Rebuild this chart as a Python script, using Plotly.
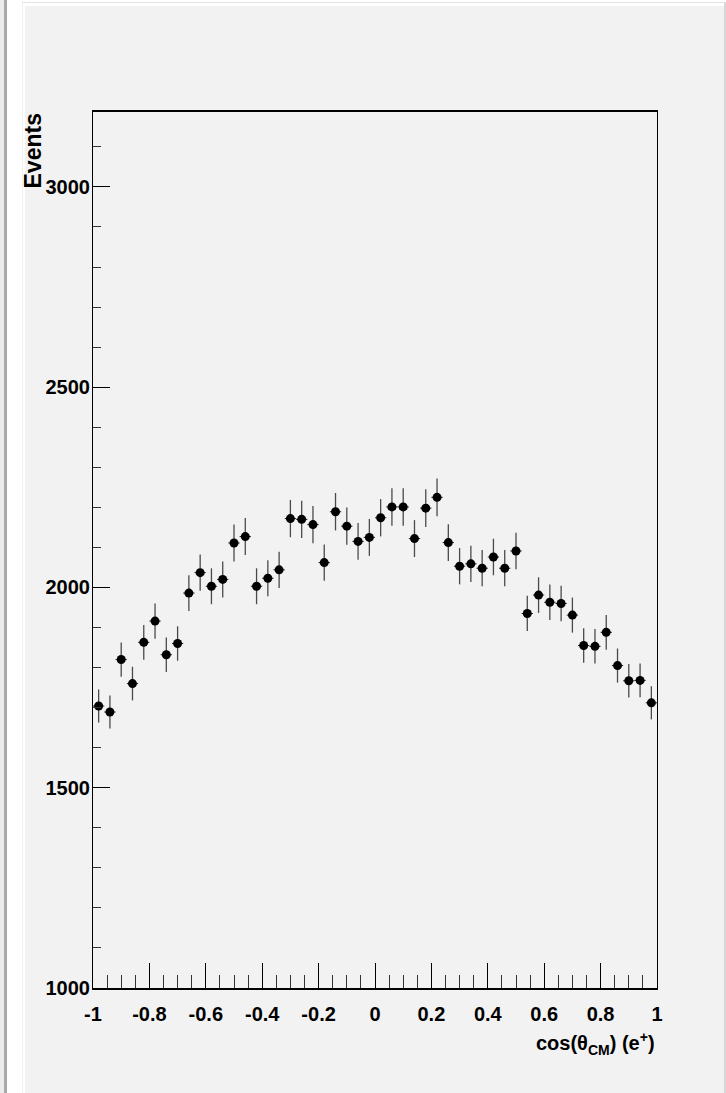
import numpy as np
import plotly.graph_objects as go

# Histogram binning: 50 bins on [-1, 1]
x_min, x_max, n_bins = -1.0, 1.0, 50
bin_edges = np.linspace(x_min, x_max, n_bins + 1)
bin_centers = 0.5 * (bin_edges[:-1] + bin_edges[1:])
half_width = 0.5 * (bin_edges[1] - bin_edges[0])

# Bin contents (events per bin)
counts = [
    1704, 1689, 1820, 1760, 1863, 1916, 1832, 1860, 1986, 2037,
    2003, 2020, 2111, 2127, 2003, 2023, 2044, 2172, 2170, 2157,
    2062, 2189, 2153, 2115, 2125, 2174, 2201, 2201, 2122, 2198,
    2225, 2112, 2053, 2059, 2048, 2076, 2048, 2091, 1935, 1981,
    1963, 1960, 1931, 1855, 1853, 1888, 1805, 1767, 1768, 1712,
]

# Statistical uncertainty per bin
errors = [
    41.3, 41.1, 42.7, 42.0, 43.2, 43.8, 42.8, 43.1, 44.6, 45.1,
    44.8, 44.9, 45.9, 46.1, 44.8, 45.0, 45.2, 46.6, 46.6, 46.4,
    45.4, 46.8, 46.4, 46.0, 46.1, 46.6, 46.9, 46.9, 46.1, 46.9,
    47.2, 46.0, 45.3, 45.4, 45.3, 45.6, 45.3, 45.7, 44.0, 44.5,
    44.3, 44.3, 43.9, 43.1, 43.0, 43.5, 42.5, 42.0, 42.0, 41.4,
]

x_ticks = [-1, -0.8, -0.6, -0.4, -0.2, 0, 0.2, 0.4, 0.6, 0.8, 1]
x_tick_text = ["-1", "-0.8", "-0.6", "-0.4", "-0.2", "0", "0.2", "0.4", "0.6", "0.8", "1"]
y_ticks = [1000, 1500, 2000, 2500, 3000]
y_tick_text = ["1000", "1500", "2000", "2500", "3000"]
y_min, y_max = 1000, 3187

# Canvas geometry (pixels)
W, H = 726, 1093
ML, MR, MT, MB = 93, 69, 112, 105
PW, PH = W - ML - MR, H - MT - MB

def px_x(px):
    return (px - ML) / PW

def px_y(py):
    return (H - MB - py) / PH

PANEL = "#f2f2f2"
FONT = "Liberation Sans, Arial, Helvetica, sans-serif"

fig = go.Figure()
fig.add_trace(go.Scatter(
    x=bin_centers,
    y=counts,
    mode="markers",
    marker=dict(symbol="circle", size=9, color="black"),
    error_y=dict(type="data", array=errors, visible=True, color="#4a4a4a",
                 thickness=1.3, width=0),
    error_x=dict(type="constant", value=half_width, visible=True, color="#222222",
                 thickness=1, width=0),
    showlegend=False,
    hoverinfo="x+y",
))

shapes = [
    # left margin strip and divider
    dict(type="rect", xref="paper", yref="paper", x0=px_x(0), x1=px_x(22),
         y0=px_y(H), y1=px_y(0), fillcolor="white", line_width=0, layer="below"),
    dict(type="rect", xref="paper", yref="paper", x0=px_x(0), x1=px_x(4),
         y0=px_y(H), y1=px_y(0), fillcolor="#ececec", line_width=0, layer="below"),
    dict(type="rect", xref="paper", yref="paper", x0=px_x(4), x1=px_x(7),
         y0=px_y(H), y1=px_y(0), fillcolor="#a9a9a9", line_width=0, layer="below"),
    # top strip
    dict(type="rect", xref="paper", yref="paper", x0=px_x(22), x1=px_x(W),
         y0=px_y(6), y1=px_y(0), fillcolor="white", line_width=0, layer="below"),
    dict(type="line", xref="paper", yref="paper", x0=px_x(22), x1=px_x(W),
         y0=px_y(2.5), y1=px_y(2.5), line=dict(color="#e2e2e2", width=1), layer="below"),
    dict(type="line", xref="paper", yref="paper", x0=px_x(22.5), x1=px_x(22.5),
         y0=px_y(H), y1=px_y(2), line=dict(color="#e2e2e2", width=1), layer="below"),
    dict(type="rect", xref="paper", yref="paper", x0=px_x(22.5), x1=px_x(25),
         y0=px_y(H), y1=px_y(3), fillcolor="white", line_width=0, layer="below"),
    # right edge
    dict(type="rect", xref="paper", yref="paper", x0=px_x(724), x1=px_x(W),
         y0=px_y(H), y1=px_y(3), fillcolor="#d6d6d6", line_width=0, layer="below"),
]

annotations = [
    dict(text="cos(θ<sub>CM</sub>) (e<sup>+</sup>)", xref="paper", yref="paper",
         x=1.0, y=px_y(1027), xanchor="right", yanchor="top", showarrow=False,
         font=dict(family=FONT, size=20, color="black", weight="bold")),
    dict(text="Events", xref="paper", yref="paper",
         x=px_x(32), y=px_y(112), xanchor="center", yanchor="top", textangle=-90,
         showarrow=False,
         font=dict(family=FONT, size=23, color="black", weight="bold")),
]

fig.update_layout(
    width=W, height=H,
    margin=dict(l=ML, r=MR, t=MT, b=MB, pad=0),
    paper_bgcolor=PANEL,
    plot_bgcolor=PANEL,
    shapes=shapes,
    annotations=annotations,
    xaxis=dict(
        range=[x_min, x_max],
        tickmode="array", tickvals=x_ticks, ticktext=x_tick_text,
        ticks="inside", ticklen=25, tickwidth=1, tickcolor="black",
        minor=dict(dtick=0.05, tick0=-1, ticks="inside", ticklen=13,
                   tickwidth=1, tickcolor="#333333", showgrid=False),
        showline=True, linecolor="black", linewidth=1.5, mirror=True,
        showgrid=False, zeroline=False,
        tickfont=dict(family=FONT, size=20, color="black", weight="bold"),
        ticklabelstandoff=7,
    ),
    yaxis=dict(
        range=[y_min, y_max],
        tickmode="array", tickvals=y_ticks, ticktext=y_tick_text,
        ticks="inside", ticklen=17, tickwidth=1, tickcolor="black",
        minor=dict(dtick=100, tick0=1000, ticks="inside", ticklen=8,
                   tickwidth=1, tickcolor="#333333", showgrid=False),
        showline=True, linecolor="black", linewidth=1.2, mirror=True,
        showgrid=False, zeroline=False,
        tickfont=dict(family=FONT, size=20, color="black", weight="bold"),
        ticklabelstandoff=-2,
    ),
)

fig.write_html("out.html")
